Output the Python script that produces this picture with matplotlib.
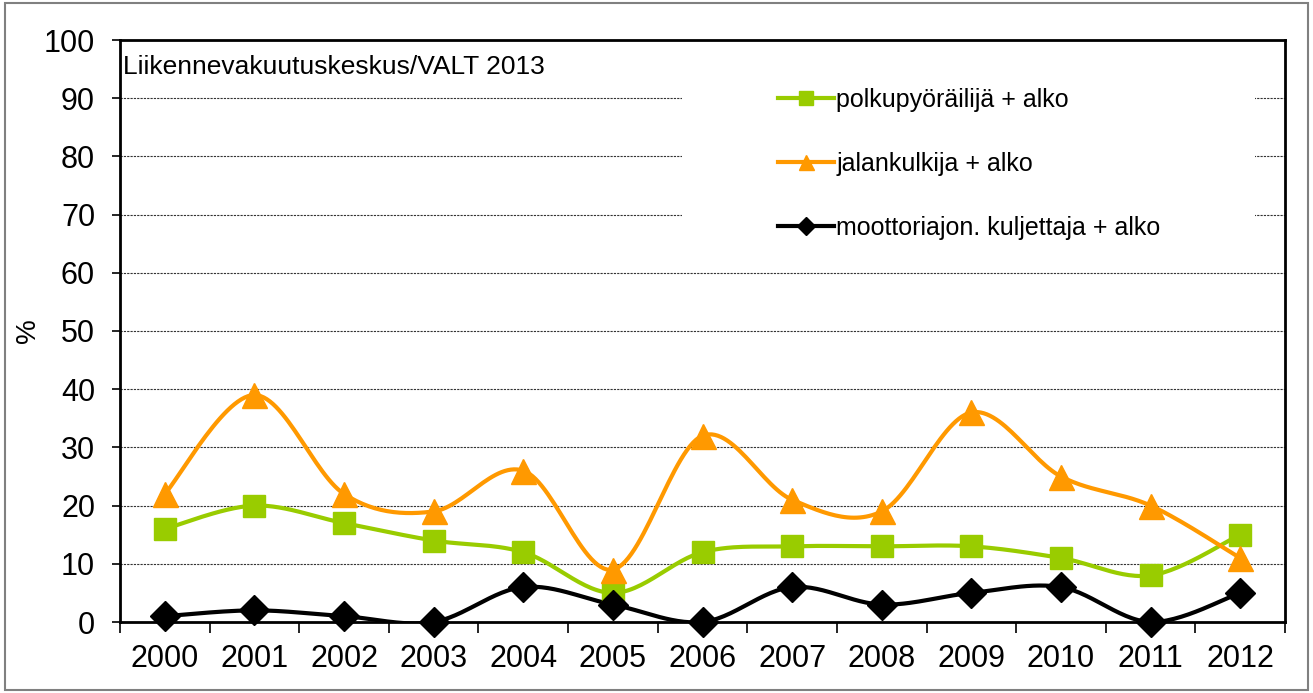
import matplotlib.pyplot as plt
import numpy as np
from matplotlib.lines import Line2D
from matplotlib.patches import Rectangle

plt.rcParams['font.family'] = ['Liberation Sans', 'DejaVu Sans']

years = ["2000", "2001", "2002", "2003", "2004", "2005", "2006",
         "2007", "2008", "2009", "2010", "2011", "2012"]
pyora = [16, 20, 17, 14, 12, 5, 12, 13, 13, 13, 11, 8, 15]
jalan = [22, 39, 22, 19, 26, 9, 32, 21, 19, 36, 25, 20, 11]
moottori = [1, 2, 1, 0, 6, 3, 0, 6, 3, 5, 6, 0, 5]

labels = ["polkupyöräilijä + alko", "jalankulkija + alko",
          "moottoriajon. kuljettaja + alko"]


def smooth(y, n=30):
    # excel-tyylinen pehmennys (catmull-rom bezier)
    y = np.asarray(y, dtype=float)
    x = np.arange(len(y), dtype=float)
    pts = np.column_stack([x, y])
    out = []
    for i in range(len(pts) - 1):
        p0 = pts[max(i - 1, 0)]
        p1 = pts[i]
        p2 = pts[i + 1]
        p3 = pts[min(i + 2, len(pts) - 1)]
        c1 = p1 + (p2 - p0) / 6
        c2 = p2 - (p3 - p1) / 6
        t = np.linspace(0, 1, n)[:, None]
        seg = ((1 - t) ** 3) * p1 + 3 * ((1 - t) ** 2) * t * c1 + 3 * (1 - t) * t ** 2 * c2 + t ** 3 * p2
        out.append(seg if i == 0 else seg[1:])
    out = np.vstack(out)
    return out[:, 0], out[:, 1]


fig = plt.figure(figsize=(13.13, 6.93), dpi=100)
ax = fig.add_axes([120 / 1313, 1 - 622 / 693, 1165 / 1313, 582 / 693])

series = [
    (pyora, "#99CC00", "s", 16),
    (jalan, "#FF9900", "^", 18),
    (moottori, "black", "D", 15),
]

x = np.arange(len(years))
handles = []
for (vals, col, mk, ms), lab in zip(series, labels):
    sx, sy = smooth(vals)
    ax.plot(sx, sy, color=col, lw=3, zorder=3, solid_capstyle='round')
    ax.plot(x, vals, linestyle='none', marker=mk, ms=ms, color=col,
            markeredgecolor=col, zorder=4, clip_on=False)
    handles.append(Line2D([], [], color=col, lw=3, marker=mk,
                          ms=ms * 0.6, markeredgecolor=col))

ax.set_xlim(-0.5, len(years) - 0.5)
ax.set_ylim(0, 100)
ax.set_yticks(np.arange(0, 101, 10))
ax.set_xticks(x)
ax.set_xticklabels(years)
ax.set_xticks(np.arange(-0.5, len(years), 1), minor=True)
ax.tick_params(axis='x', which='major', length=0, pad=16, labelsize=22)
ax.tick_params(axis='x', which='minor', length=8, width=1.2, direction='out')
ax.tick_params(axis='y', length=6, width=1.2, pad=12, labelsize=22)

ax.grid(axis='y', color='#333333', linestyle=(0, (2, 1)), lw=0.8, zorder=1)
for s in ax.spines.values():
    s.set_linewidth(2)
    s.set_color('black')

ax.set_ylabel("%", fontsize=20, labelpad=2)

ax.text(0.003, 0.975, "Liikennevakuutuskeskus/VALT 2013", transform=ax.transAxes,
        fontsize=19, va='top', ha='left')

# legendan valkoinen tausta peittää ruudukon
ax.add_patch(Rectangle((0.482, 0.64), 0.492, 0.325, transform=ax.transAxes,
                       facecolor='white', edgecolor='none', zorder=2))
leg = ax.legend(handles, labels, loc='upper left', bbox_to_anchor=(0.556, 0.935),
                frameon=False, fontsize=18, handlelength=2.25, handletextpad=0.1,
                labelspacing=1.6, borderaxespad=0)
leg.set_zorder(5)

fig.patches.append(Rectangle((0.004, 0.005), 0.992, 0.99, transform=fig.transFigure,
                             facecolor='none', edgecolor='#808080', lw=1.5))

fig.savefig("out.png", dpi=100)
